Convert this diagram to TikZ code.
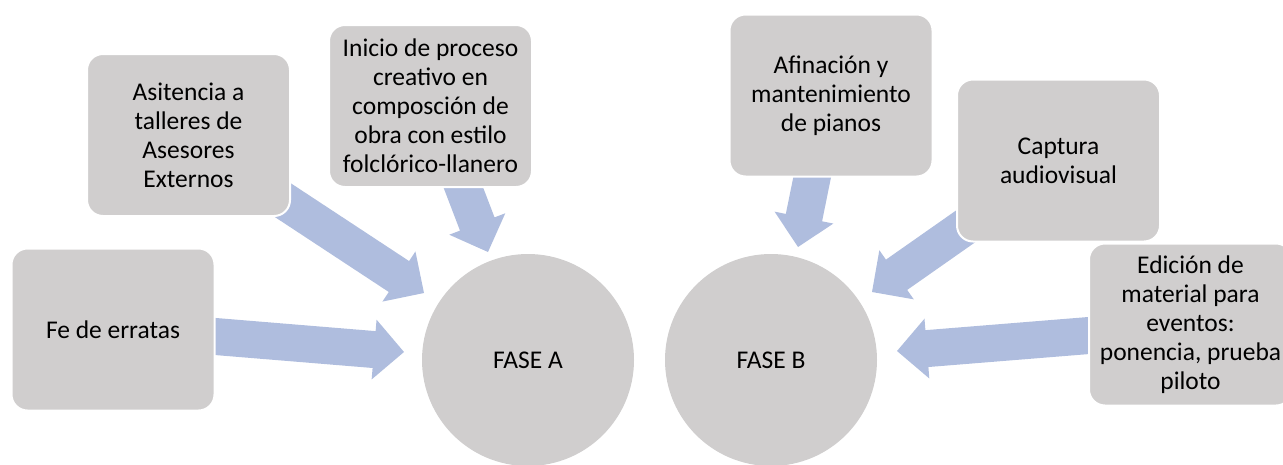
\documentclass[tikz,border=0pt]{standalone}
\usepackage{fontspec}
\setmainfont{Carlito}
\usetikzlibrary{calc}
\definecolor{boxgray}{HTML}{D0CECE}
\definecolor{arrowc}{HTML}{AFBDDE}
\newcommand\blockarrow[2]{%
  \coordinate (hb) at ($(#2)!30pt!(#1)$);
  \fill[arrowc] ($(#1)!18.5pt!90:(#2)$) -- ($(hb)!18.5pt!90:(#2)$) -- ($(hb)!30pt!90:(#2)$) -- (#2)
    -- ($(hb)!30pt!-90:(#2)$) -- ($(hb)!18.5pt!-90:(#2)$) -- ($(#1)!18.5pt!-90:(#2)$) -- cycle;
}
\tikzset{
  box/.style={rectangle, rounded corners=16pt, fill=boxgray, draw=white, line width=2pt,
    minimum width=203pt, minimum height=162pt, align=center, inner sep=2pt,
    font=\fontsize{25.5}{29}\selectfont, text=black},
  phase/.style={circle, fill=boxgray, draw=none, minimum size=212pt, inner sep=0pt,
    font=\fontsize{25.5}{29}\selectfont, text=black}
}
\begin{document}
\begin{tikzpicture}[x=1pt, y=-1pt]
\useasboundingbox (0,0) rectangle (1283,464);
% arrow end points
\coordinate (t1) at (194.7,334.8);  \coordinate (h1) at (404,352);
\coordinate (t2) at (273.5,194);    \coordinate (h2) at (424,293);
\coordinate (t3) at (457.6,172.6);  \coordinate (h3) at (488,252);
\coordinate (t4) at (813.9,168.6);  \coordinate (h4) at (798,247);
\coordinate (t5) at (986.7,211.6);  \coordinate (h5) at (872,292);
\coordinate (t6) at (1106.3,334.1); \coordinate (h6) at (897,351);
\blockarrow{t1}{h1}
\blockarrow{t2}{h2}
\blockarrow{t3}{h3}
\blockarrow{t4}{h4}
\blockarrow{t5}{h5}
\blockarrow{t6}{h6}
% boxes
\node[box] (asit) at (188.5,135) {Asitencia a\\talleres de\\Asesores\\Externos};
\node[box] (inicio) at (430.5,106) {Inicio de proceso\\creativo en\\composción de\\obra con estilo\\folclórico-llanero};
\node[box] (fe) at (113,329.5) {Fe de erratas};
\node[box] (afin) at (831,95.5) {Afinación y\\mantenimiento\\de pianos};
\node[box] (capt) at (1058.5,160.5) {Captura\\audiovisual};
\node[box] (edic) at (1190.5,324.5) {Edición de\\material para\\eventos:\\ponencia, prueba\\piloto};
% phases
\node[phase] (faseA) at (528,360) {FASE A};
\node[phase] (faseB) at (771,360) {FASE B};
\end{tikzpicture}
\end{document}
